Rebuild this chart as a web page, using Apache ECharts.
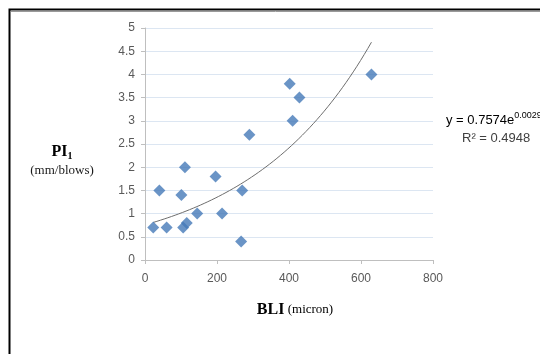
<!DOCTYPE html>
<html>
<head>
<meta charset="utf-8">
<script src="https://cdn.jsdelivr.net/npm/echarts@6/dist/echarts.min.js"></script>
<style>
  html, body { margin: 0; padding: 0; background: #fff; }
  #chart { width: 540px; height: 354px; }
</style>
</head>
<body>
<div id="chart"></div>
<script>
// Measured BLI (micron) and PI1 (mm/blows) pairs
const bli = [23, 40, 60, 101, 111, 106, 116, 145, 196, 214, 267, 270, 290, 410, 402, 429, 629];
const pi1 = [0.7, 1.5, 0.7, 1.4, 2.0, 0.7, 0.8, 1.0, 1.8, 1.0, 0.4, 1.5, 2.7, 3.0, 3.8, 3.5, 4.0];

// Exponential trendline y = a * e^(b x), as reported on the chart
const trendA = 0.7574;
const trendB = 0.0029;
const trendR2 = 0.4948;

// Axis tick values
const xTicks = [0, 200, 400, 600, 800];
const yTicks = [0, 0.5, 1, 1.5, 2, 2.5, 3, 3.5, 4, 4.5, 5];

const points = bli.map((x, i) => [x, pi1[i]]);

const xMinData = Math.min(...bli);
const xMaxData = Math.max(...bli);
const trend = [];
for (let k = 0; k <= 60; k++) {
  const x = xMinData + (xMaxData - xMinData) * k / 60;
  trend.push([x, trendA * Math.exp(trendB * x)]);
}

const chart = echarts.init(document.getElementById('chart'), null, { renderer: 'canvas' });

const tickFont = { fontFamily: 'Liberation Sans, Arial, sans-serif', fontSize: 12, color: '#595959' };
const serif = 'Liberation Serif, Times New Roman, serif';
const sans = 'Liberation Sans, Arial, sans-serif';

chart.setOption({
  animation: false,
  backgroundColor: '#ffffff',
  grid: { left: 145, right: 107, top: 28, bottom: 94 },
  xAxis: {
    type: 'value',
    min: xTicks[0],
    max: xTicks[xTicks.length - 1],
    interval: xTicks[1] - xTicks[0],
    axisLine: { lineStyle: { color: '#bfbfbf', width: 1 } },
    axisTick: { show: true, length: 4, lineStyle: { color: '#bfbfbf' } },
    axisLabel: Object.assign({ margin: 13 }, tickFont),
    splitLine: { show: false }
  },
  yAxis: {
    type: 'value',
    min: yTicks[0],
    max: yTicks[yTicks.length - 1],
    interval: yTicks[1] - yTicks[0],
    axisLine: { show: true, lineStyle: { color: '#bfbfbf', width: 1 } },
    axisTick: { show: true, length: 4, lineStyle: { color: '#bfbfbf' } },
    axisLabel: Object.assign({ margin: 10 }, tickFont),
    splitLine: { show: true, lineStyle: { color: '#dce6f2', width: 1 } }
  },
  series: [
    {
      type: 'line',
      data: trend,
      showSymbol: false,
      smooth: false,
      lineStyle: { color: '#6e6e6e', width: 1 },
      z: 3
    },
    {
      type: 'scatter',
      data: points,
      symbol: 'diamond',
      symbolSize: [12, 12],
      itemStyle: { color: '#4579b8' },
      z: 4
    }
  ],
  graphic: [
    {
      type: 'rect',
      shape: { x: 9.5, y: 9.5, width: 600, height: 400 },
      style: { fill: 'none', stroke: '#000000', lineWidth: 2 },
      silent: true
    },
    {
      type: 'line',
      shape: { x1: 11, y1: 11.5, x2: 540, y2: 11.5 },
      style: { stroke: '#9a9a9a', lineWidth: 1 },
      silent: true
    },
    {
      type: 'text',
      x: 62, y: 152,
      style: {
        text: '{b|PI}{s|1}',
        align: 'center',
        verticalAlign: 'middle',
        rich: {
          b: { fontFamily: serif, fontWeight: 'bold', fontSize: 16, color: '#1a1a1a' },
          s: { fontFamily: serif, fontWeight: 'bold', fontSize: 10, color: '#1a1a1a', padding: [8, 0, 0, 0] }
        }
      }
    },
    {
      type: 'text',
      x: 62, y: 171,
      style: {
        text: '(mm/blows)',
        align: 'center',
        verticalAlign: 'middle',
        fontFamily: serif,
        fontSize: 13,
        fill: '#1a1a1a'
      }
    },
    {
      type: 'text',
      x: 295, y: 310,
      style: {
        text: '{b|BLI} {r|(micron)}',
        align: 'center',
        verticalAlign: 'middle',
        rich: {
          b: { fontFamily: serif, fontWeight: 'bold', fontSize: 16, color: '#1a1a1a' },
          r: { fontFamily: serif, fontSize: 13, color: '#1a1a1a' }
        }
      }
    },
    {
      type: 'text',
      x: 446, y: 120,
      style: {
        text: '{n|y = ' + trendA + 'e}{p|' + trendB + 'x}',
        align: 'left',
        verticalAlign: 'middle',
        rich: {
          n: { fontFamily: sans, fontSize: 13, color: '#404040' },
          p: { fontFamily: sans, fontSize: 9, color: '#404040', padding: [0, 0, 9, 0] }
        }
      }
    },
    {
      type: 'text',
      x: 462, y: 138,
      style: {
        text: 'R² = ' + trendR2,
        align: 'left',
        verticalAlign: 'middle',
        fontFamily: sans,
        fontSize: 13,
        fill: '#404040'
      }
    }
  ]
});
</script>
</body>
</html>
